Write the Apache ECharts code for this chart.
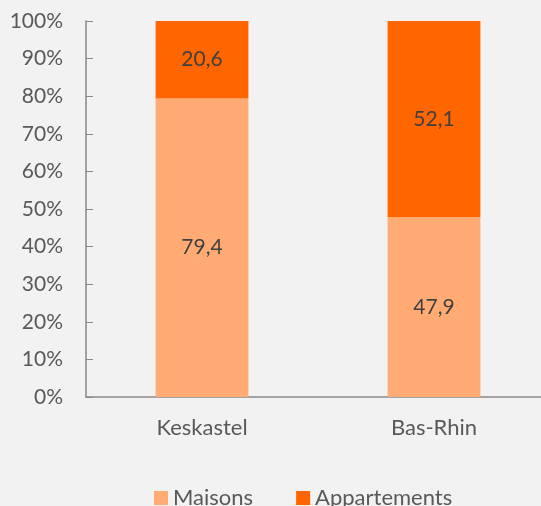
<!DOCTYPE html>
<html>
<head>
<meta charset="utf-8">
<script src="https://cdn.jsdelivr.net/npm/echarts@6/dist/echarts.min.js"></script>
<style>
  html, body { margin: 0; padding: 0; background: #F2F2F2; overflow: hidden; }
  #chart { width: 550px; height: 506px; }
</style>
</head>
<body>
<div id="chart"></div>
<script>
const categories = ['Keskastel', 'Bas-Rhin'];
const maisons = [79.4, 47.9];
const appartements = [20.6, 52.1];
const yTicks = [0, 10, 20, 30, 40, 50, 60, 70, 80, 90, 100];

var chartDom = document.getElementById('chart');
var myChart = echarts.init(chartDom);

const fontFam = 'Lato, "Open Sans", sans-serif';

function fmt(v) {
    return String(v).replace('.', ',');
}

// le graphique déborde un peu à droite (axe coupé par le bord de l'image)
var option = {
    backgroundColor: '#F2F2F2',
    textStyle: { fontFamily: fontFam },
    animation: false,
    grid: { left: 86, right: 0, top: 21, bottom: 109, containLabel: false },
    legend: {
        top: 482,
        left: 149,
        itemWidth: 14,
        itemHeight: 14,
        itemGap: 43,
        icon: 'rect',
        textStyle: { color: '#595959', fontSize: 22, fontFamily: fontFam },
        data: ['Maisons', 'Appartements']
    },
    xAxis: {
        type: 'category',
        data: categories,
        axisLine: { lineStyle: { color: '#898989', width: 1.5 } },
        axisTick: { show: false },
        axisLabel: { color: '#595959', fontSize: 22, margin: 20 }
    },
    yAxis: {
        type: 'value',
        min: 0,
        max: 100,
        interval: 10,
        axisLine: { show: true, lineStyle: { color: '#898989', width: 1.5 } },
        axisTick: { show: true, inside: true, length: 7, lineStyle: { color: '#898989' } },
        splitLine: { show: false },
        axisLabel: {
            color: '#595959', fontSize: 21, margin: 23,
            formatter: function (v) { return yTicks.indexOf(v) >= 0 ? v + '%' : ''; }
        }
    },
    series: [
        {
            name: 'Maisons',
            type: 'bar',
            stack: 'total',
            barWidth: '40%',
            data: maisons,
            itemStyle: { color: '#FFAB73' },
            label: {
                show: true, position: 'inside', color: '#404040', fontSize: 21,
                formatter: function (p) { return fmt(p.value); }
            }
        },
        {
            name: 'Appartements',
            type: 'bar',
            stack: 'total',
            barWidth: '40%',
            data: appartements,
            itemStyle: { color: '#FF6600' },
            label: {
                show: true, position: 'inside', color: '#404040', fontSize: 21,
                formatter: function (p) { return fmt(p.value); }
            }
        }
    ]
};

myChart.setOption(option);
window.addEventListener('resize', () => myChart.resize());
</script>
</body>
</html>
